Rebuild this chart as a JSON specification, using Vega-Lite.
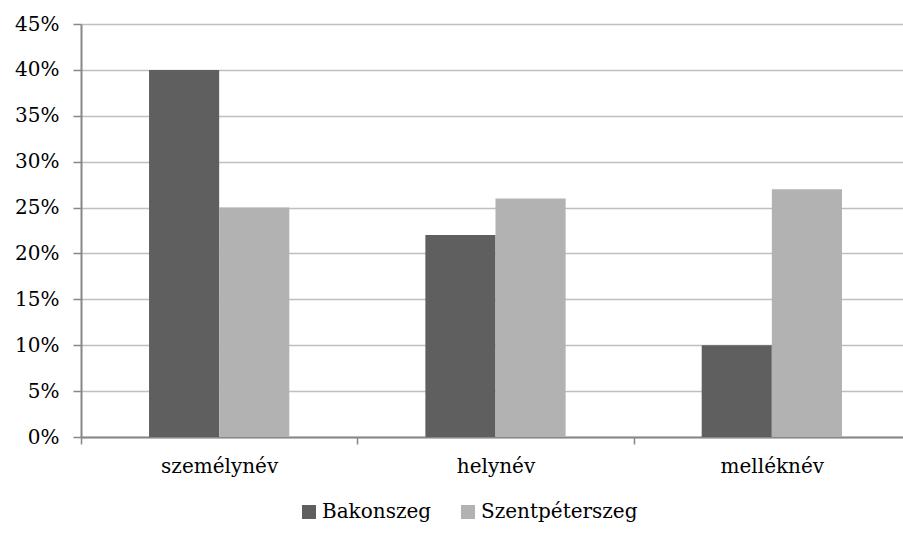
{
  "$schema": "https://vega.github.io/schema/vega-lite/v6.json",
  "width": 829,
  "height": 413,
  "autosize": {"type": "none"},
  "padding": {"left": 81, "top": 24, "right": 0, "bottom": 99},
  "background": "white",
  "data": {
    "values": [
      {"kategoria": "személynév", "telepules": "Bakonszeg", "arany": 0.40},
      {"kategoria": "személynév", "telepules": "Szentpéterszeg", "arany": 0.25},
      {"kategoria": "helynév", "telepules": "Bakonszeg", "arany": 0.22},
      {"kategoria": "helynév", "telepules": "Szentpéterszeg", "arany": 0.26},
      {"kategoria": "melléknév", "telepules": "Bakonszeg", "arany": 0.10},
      {"kategoria": "melléknév", "telepules": "Szentpéterszeg", "arany": 0.27}
    ]
  },
  "config": {
    "font": "DejaVu Serif",
    "view": {"stroke": null},
    "axis": {"labelFont": "DejaVu Serif", "labelFontSize": 20, "labelColor": "black"},
    "legend": {"labelFont": "DejaVu Serif", "labelFontSize": 20, "labelColor": "black", "labelLimit": 400}
  },
  "mark": {"type": "bar"},
  "encoding": {
    "x": {
      "field": "kategoria",
      "type": "nominal",
      "sort": ["személynév", "helynév", "melléknév"],
      "scale": {"paddingInner": 0, "paddingOuter": 0},
      "axis": {
        "title": null,
        "labelAngle": 0,
        "domainColor": "#878787",
        "domainWidth": 2,
        "ticks": true,
        "tickColor": "#878787",
        "tickWidth": 1.5,
        "tickSize": 7,
        "tickBand": "extent",
        "labelPadding": 12,
        "grid": false
      }
    },
    "xOffset": {
      "field": "telepules",
      "type": "nominal",
      "sort": ["Bakonszeg", "Szentpéterszeg"],
      "scale": {"paddingInner": 0, "paddingOuter": 0.97}
    },
    "y": {
      "field": "arany",
      "type": "quantitative",
      "scale": {"domain": [0, 0.45], "nice": false},
      "axis": {
        "title": null,
        "format": ".0%",
        "values": [0, 0.05, 0.1, 0.15, 0.2, 0.25, 0.3, 0.35, 0.4, 0.45],
        "grid": true,
        "gridColor": "#bfbfbf",
        "gridWidth": 1.5,
        "domainColor": "#878787",
        "domainWidth": 2,
        "ticks": true,
        "tickColor": "#878787",
        "tickWidth": 1.5,
        "tickSize": 8,
        "labelPadding": 14
      }
    },
    "color": {
      "field": "telepules",
      "type": "nominal",
      "sort": ["Bakonszeg", "Szentpéterszeg"],
      "scale": {"domain": ["Bakonszeg", "Szentpéterszeg"], "range": ["#5f5f5f", "#b2b2b2"]},
      "legend": {
        "title": null,
        "orient": "none",
        "direction": "horizontal",
        "legendX": 218,
        "legendY": 478,
        "symbolType": "square",
        "symbolSize": 196,
        "symbolStrokeWidth": 0,
        "symbolOpacity": 1,
        "labelOffset": 3,
        "columnPadding": 26
      }
    }
  }
}
